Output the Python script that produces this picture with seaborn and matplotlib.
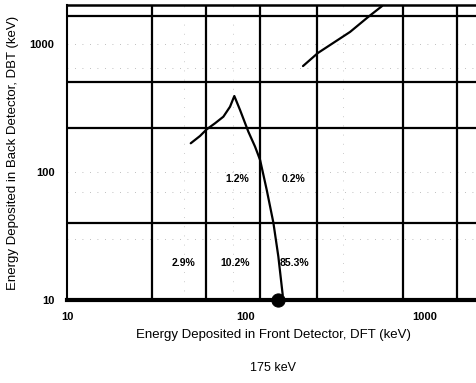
import matplotlib
matplotlib.use("Agg")
import matplotlib.pyplot as plt
import seaborn as sns
import pandas as pd
from matplotlib.ticker import FixedLocator, NullLocator

# ---- data ----
bin_x = [30, 60, 120, 250, 750, 1500]          # DFT bin edges (keV)
bin_y = [40, 220, 500, 1650]                   # DBT bin edges (keV)

curve1_dft = [49.1, 55.3, 60.3, 67.1, 74.7, 81.4, 86.0, 92.6, 103.0, 112.3,
              119.8, 130.5, 142.1, 151.5, 158.3, 160.3]
curve1_dbt = [166.9, 190.2, 214.5, 239, 269, 322, 390, 303, 205.5, 157,
              123.6, 72.1, 40.1, 21.8, 12.7, 10.9]

curve2_dft = [208, 252, 381, 481, 575]
curve2_dbt = [668, 845, 1233, 1614, 1963]

dot_dft = [151]
dot_dbt = [10]

pct_labels = ["1.2%", "0.2%", "2.9%", "10.2%", "85.3%"]
pct_x = [89, 185, 45, 87, 187]
pct_y = [88, 88, 19.4, 19.4, 19.4]

x_ticks = [10, 100, 1000]
y_ticks = [10, 100, 1000]

sns.set_style("white")
plt.rcParams['font.family'] = ['Liberation Sans', 'DejaVu Sans']
plt.rcParams['text.color'] = 'black'
plt.rcParams['axes.labelcolor'] = 'black'
plt.rcParams['xtick.color'] = 'black'
plt.rcParams['ytick.color'] = 'black'

fig = plt.figure(figsize=(4.76, 3.83), dpi=100)
ax = fig.add_axes([67/476, 83/383, 412/476, 295/383])
ax.set_xscale("log")
ax.set_yscale("log")
ax.set_xlim(10, 2000)
ax.set_ylim(10, 2000)

# faint dotted background grid (sparse, scanned look)
for yv in [30, 70, 100, 650, 1000]:
    ax.axhline(yv, color="#aaaaaa", lw=0.6, ls=(0, (1, 8)), zorder=0.5)
for xv in [45, 85, 350]:
    ax.axvline(xv, color="#bbbbbb", lw=0.6, ls=(0, (1, 10)), zorder=0.5)

# thick bin grid
for xv in bin_x:
    ax.axvline(xv, color="black", lw=1.6, zorder=1)
for yv in bin_y:
    ax.axhline(yv, color="black", lw=1.6, zorder=1)

df1 = pd.DataFrame({"dft": curve1_dft, "dbt": curve1_dbt})
df2 = pd.DataFrame({"dft": curve2_dft, "dbt": curve2_dbt})
sns.lineplot(data=df1, x="dft", y="dbt", sort=False, color="black", lw=1.6, ax=ax, zorder=3)
sns.lineplot(data=df2, x="dft", y="dbt", sort=False, color="black", lw=1.6, ax=ax, zorder=3)
sns.scatterplot(x=dot_dft, y=dot_dbt, color="black", s=90, ax=ax, zorder=5, clip_on=False, edgecolor="black")

for lab, xv, yv in zip(pct_labels, pct_x, pct_y):
    ax.text(xv, yv, lab, ha="center", va="center", fontsize=7.5, fontweight="bold", zorder=4)

# spines
for s in ["top", "right"]:
    ax.spines[s].set_visible(False)
ax.spines["left"].set_linewidth(1.5)
ax.spines["left"].set_color("black")
ax.spines["bottom"].set_linewidth(3)
ax.spines["bottom"].set_color("black")
ax.axhline(2000, color="black", lw=1.8, clip_on=False)

ax.xaxis.set_major_locator(FixedLocator(x_ticks))
ax.yaxis.set_major_locator(FixedLocator(y_ticks))
ax.xaxis.set_minor_locator(NullLocator())
ax.yaxis.set_minor_locator(NullLocator())
ax.set_xticklabels([str(v) for v in x_ticks])
ax.set_yticklabels([str(v) for v in y_ticks])
ax.tick_params(axis="both", which="major", direction="out", length=3, width=0.8,
               labelsize=8, pad=6, colors="black")
for lbl in ax.get_xticklabels() + ax.get_yticklabels():
    lbl.set_fontweight("bold")

ax.set_xlabel("Energy Deposited in Front Detector, DFT (keV)", fontsize=9.5, labelpad=5)
ax.set_ylabel("Energy Deposited in Back Detector, DBT (keV)", fontsize=9.5, labelpad=8)
fig.text(273/476, 1 - 368/383, "175 keV", ha="center", va="center", fontsize=9)

fig.savefig("out.png", dpi=100)
